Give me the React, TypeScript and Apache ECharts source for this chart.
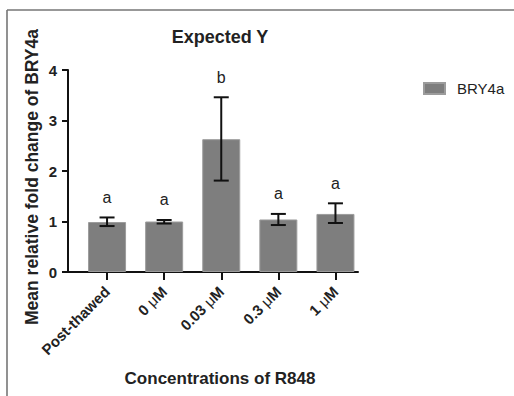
import React, { useEffect, useRef } from "react";
import * as echarts from "echarts";

const categories = ["Post-thawed", "0 μM", "0.03 μM", "0.3 μM", "1 μM"];
const meanValues = [0.99, 1.0, 2.63, 1.04, 1.15];
const errLow = [0.91, 0.96, 1.81, 0.93, 0.97];
const errHigh = [1.08, 1.03, 3.46, 1.15, 1.36];
const letters = ["a", "a", "b", "a", "a"];
const yTicks = [0, 1, 2, 3, 4];

const FONT = "'Liberation Sans', Arial, sans-serif";

export default function App() {
  const ref = useRef<HTMLDivElement>(null);
  useEffect(() => {
    if (!ref.current) return;
    const chart = echarts.init(ref.current, null, { renderer: "svg" });
    const errData = categories.map((_, i) => [i, errLow[i], errHigh[i], letters[i]]);
    chart.setOption({
      animation: false,
      backgroundColor: "#ffffff",
      textStyle: { fontFamily: FONT },
      legend: {
        left: 418,
        top: 76,
        data: ["BRY4a"],
        itemWidth: 21,
        itemHeight: 11,
        icon: "rect",
        textStyle: { fontSize: 15, color: "#222", fontFamily: FONT, padding: [0, 0, 0, 7] },
      },
      grid: [
        { left: 68, top: 70, width: 290, height: 202 },
        { left: 78.5, top: 70, width: 285.5, height: 202 },
      ],
      xAxis: [
        {
          gridIndex: 0,
          type: "value",
          min: 0,
          max: 1,
          axisLine: { show: true, lineStyle: { color: "#111", width: 2 } },
          axisTick: { show: false },
          axisLabel: { show: false },
          splitLine: { show: false },
        },
        {
          gridIndex: 1,
          type: "category",
          data: categories,
          axisLine: { show: true, lineStyle: { color: "rgba(0,0,0,0)", width: 2 } },
          axisTick: { show: true, alignWithLabel: true, length: 8, lineStyle: { color: "#111", width: 2 } },
          axisLabel: {
            rotate: 45,
            margin: 17,
            fontSize: 15,
            fontWeight: "bold",
            color: "#222",
            fontFamily: FONT,
            interval: 0,
            formatter: (v: string) => v.replace("μ", "{m|μ}"),
            rich: {
              m: { fontSize: 15, fontWeight: "normal", color: "#222", fontFamily: FONT },
            },
          },
          splitLine: { show: false },
        },
      ],
      yAxis: [
        {
          gridIndex: 0,
          type: "value",
          min: 0,
          max: 4,
          interval: 1,
          axisLine: { show: true, lineStyle: { color: "#111", width: 2 } },
          axisTick: { show: true, length: 6, lineStyle: { color: "#111", width: 2 } },
          axisLabel: {
            margin: 11,
            fontSize: 15,
            fontWeight: "bold",
            color: "#222",
            fontFamily: FONT,
            formatter: (v: number) => (yTicks.includes(v) ? String(v) : ""),
          },
          splitLine: { show: false },
        },
        {
          gridIndex: 1,
          type: "value",
          min: 0,
          max: 4,
          interval: 1,
          show: false,
          splitLine: { show: false },
        },
      ],
      series: [
        {
          name: "BRY4a",
          type: "bar",
          xAxisIndex: 1,
          yAxisIndex: 1,
          data: meanValues,
          barWidth: 38,
          itemStyle: { color: "#7e7e7e", borderColor: "#9c9c9c", borderWidth: 1 },
        },
        {
          type: "custom",
          xAxisIndex: 1,
          yAxisIndex: 1,
          data: errData,
          z: 5,
          renderItem: (params: any, api: any) => {
            const x = api.value(0);
            const lo = api.coord([x, api.value(1)]);
            const hi = api.coord([x, api.value(2)]);
            const half = 7.5;
            const stroke = { stroke: "#111", lineWidth: 2 };
            return {
              type: "group",
              children: [
                { type: "line", shape: { x1: hi[0], y1: hi[1], x2: lo[0], y2: lo[1] }, style: stroke },
                { type: "line", shape: { x1: hi[0] - half, y1: hi[1], x2: hi[0] + half, y2: hi[1] }, style: stroke },
                { type: "line", shape: { x1: lo[0] - half, y1: lo[1], x2: lo[0] + half, y2: lo[1] }, style: stroke },
                {
                  type: "text",
                  x: hi[0],
                  y: hi[1] - 20,
                  style: {
                    text: letters[params.dataIndex],
                    align: "center",
                    verticalAlign: "middle",
                    fontSize: 16,
                    fontFamily: FONT,
                    fill: "#222",
                  },
                },
              ],
            };
          },
        },
      ],
      graphic: [
        { type: "line", shape: { x1: 7, y1: 10, x2: 514, y2: 10 }, style: { stroke: "#767676", lineWidth: 1.6 } },
        { type: "line", shape: { x1: 7, y1: 10, x2: 7, y2: 396 }, style: { stroke: "#767676", lineWidth: 1.6 } },
        {
          type: "text",
          x: 220,
          y: 37,
          style: { text: "Expected Y", align: "center", verticalAlign: "middle", font: `bold 18px ${FONT}`, fill: "#222" },
        },
        {
          type: "text",
          x: 32,
          y: 177,
          rotation: Math.PI / 2,
          style: {
            text: "Mean relative fold change of BRY4a",
            align: "center",
            verticalAlign: "middle",
            font: `bold 17.5px ${FONT}`,
            fill: "#222",
          },
        },
        {
          type: "text",
          x: 220,
          y: 378,
          style: { text: "Concentrations of R848", align: "center", verticalAlign: "middle", font: `bold 17px ${FONT}`, fill: "#222" },
        },
      ],
    });
    return () => chart.dispose();
  }, []);
  return <div ref={ref} style={{ position: "fixed", left: 0, top: 0, width: 514, height: 396 }} />;
}
